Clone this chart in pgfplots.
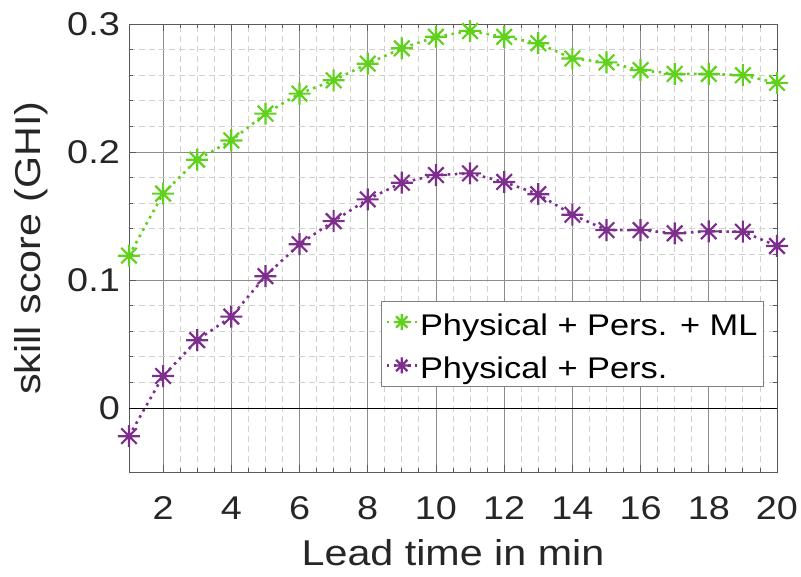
\documentclass[border=0pt]{standalone}
\usepackage{pgfplots}
\pgfplotsset{compat=1.18}
\usepackage{fontspec}
\setmainfont{Liberation Sans}[FakeStretch=1.15]
\definecolor{mgreen}{RGB}{96,210,30}
\definecolor{mpurple}{RGB}{126,47,142}
\pgfdeclareplotmark{mstar}{%
  \pgfpathmoveto{\pgfqpoint{-\pgfplotmarksize}{0pt}}\pgfpathlineto{\pgfqpoint{\pgfplotmarksize}{0pt}}%
  \pgfpathmoveto{\pgfqpoint{0pt}{-\pgfplotmarksize}}\pgfpathlineto{\pgfqpoint{0pt}{\pgfplotmarksize}}%
  \pgfpathmoveto{\pgfqpoint{-0.707\pgfplotmarksize}{-0.707\pgfplotmarksize}}\pgfpathlineto{\pgfqpoint{0.707\pgfplotmarksize}{0.707\pgfplotmarksize}}%
  \pgfpathmoveto{\pgfqpoint{-0.707\pgfplotmarksize}{0.707\pgfplotmarksize}}\pgfpathlineto{\pgfqpoint{0.707\pgfplotmarksize}{-0.707\pgfplotmarksize}}%
  \pgfusepathqstroke}
\begin{document}
\begin{tikzpicture}
\path[use as bounding box] (-129bp,-105bp) rectangle (672bp,472bp);
\begin{axis}[
  at={(0,0)}, anchor=south west,
  scale only axis, width=648bp, height=448bp,
  xmin=1, xmax=20, ymin=-0.05, ymax=0.3,
  xtick={2,4,...,20}, ytick={0,0.1,0.2,0.3},
  minor x tick num=3, minor y tick num=4,
  grid=both,
  major grid style={draw=black!45, line width=0.8bp},
  minor grid style={draw=black!18, dash pattern=on 6bp off 4bp, line width=0.8bp},
  axis line style={draw=black!65, line width=0.8bp},
  tick align=inside, major tick length=7bp, minor tick length=4bp,
  tick style={draw=black!65, line width=0.8bp},
  /pgf/number format/assume math mode=true,
  ticklabel style={font=\fontsize{33}{38}\selectfont, text=black!85},
  xticklabel style={anchor=base, yshift=-47bp},
  yticklabel style={/pgf/number format/fixed, anchor=east, inner sep=0pt, xshift=-9bp},
  label style={font=\fontsize{36}{42}\selectfont, text=black!85},
  xlabel={Lead time in min},
  ylabel={skill score (GHI)},
  xlabel style={at={(axis description cs:0.5,-0.2098)}, anchor=base},
  ylabel style={at={(axis description cs:-0.1358,0.5)}, anchor=base},
  legend style={at={(0.389,0.382)}, anchor=north west, draw=black!50, line width=0.8bp,
    font=\fontsize{30}{34}\selectfont, fill=white, inner sep=4bp, row sep=10bp,
    cells={anchor=west, text height=28bp, text depth=6bp}},
  legend image code/.code={\draw[mark repeat=2,mark phase=2,mark size=8bp] plot coordinates {(0bp,0bp) (15bp,0bp) (30bp,0bp)};},
  every axis plot/.append style={line width=2.6bp, dash pattern=on 2.6bp off 4.5bp, mark=mstar, mark size=11bp,
    mark options={solid, line width=2.2bp}},
]
\addplot[black, line width=1bp, solid, no marks, forget plot] coordinates {(1,0) (20,0)};
\addplot[mgreen] coordinates {
(1,0.119) (2,0.1675) (3,0.194) (4,0.209) (5,0.230) (6,0.2456) (7,0.256) (8,0.269)
(9,0.281) (10,0.290) (11,0.2945) (12,0.290) (13,0.285) (14,0.273) (15,0.270)
(16,0.264) (17,0.261) (18,0.261) (19,0.260) (20,0.254)};
\addplot[mpurple] coordinates {
(1,-0.022) (2,0.025) (3,0.053) (4,0.0714) (5,0.103) (6,0.128) (7,0.146) (8,0.163)
(9,0.176) (10,0.182) (11,0.1833) (12,0.1766) (13,0.167) (14,0.151) (15,0.139)
(16,0.139) (17,0.1365) (18,0.138) (19,0.1377) (20,0.1266)};
\legend{Physical + Pers. + ML, Physical + Pers.}
\end{axis}
\end{tikzpicture}
\end{document}
